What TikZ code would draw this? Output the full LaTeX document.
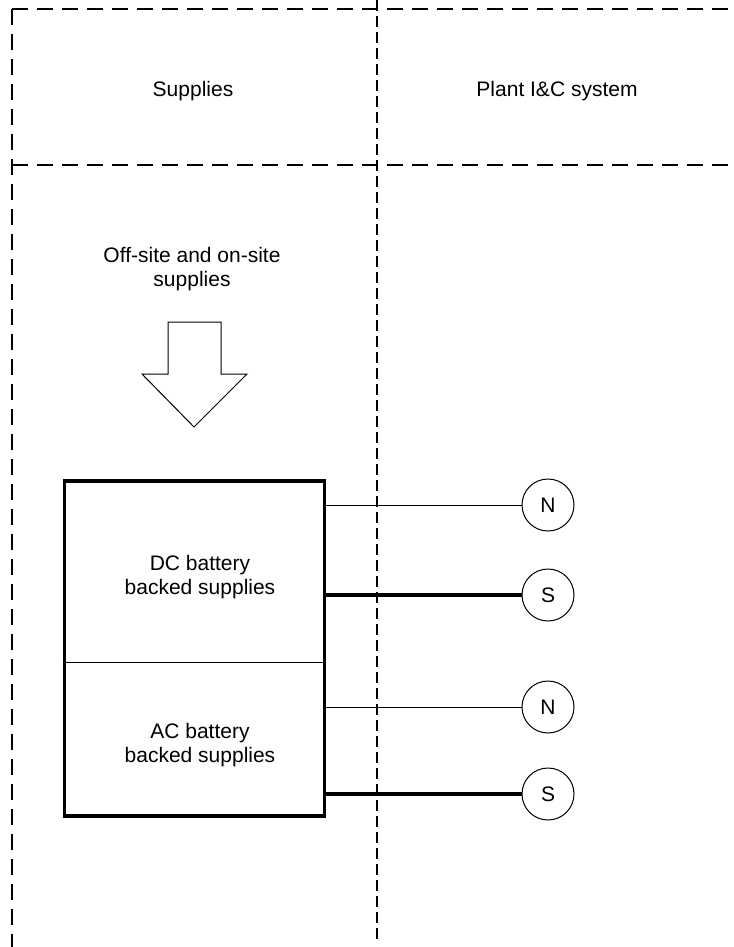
\documentclass[tikz,border=0pt]{standalone}
\usepackage{fontspec}
\setmainfont{Liberation Sans}
\begin{document}
\begin{tikzpicture}[x=0.75pt,y=-0.75pt,
  frame/.style={line width=1.5pt, dash pattern=on 12pt off 6.75pt},
  midline/.style={line width=1.5pt, dash pattern=on 8.25pt off 3.75pt},
  lbl/.style={font=\fontsize{15.75}{18.4}\selectfont, align=center, inner sep=0pt},
  sig/.style={circle, draw, line width=0.75pt, minimum size=39pt, inner sep=0pt, font=\fontsize{15.75}{18.4}\selectfont},
  thinwire/.style={line width=0.75pt},
  thickwire/.style={line width=2.4pt},
  bigbox/.style={draw, line width=2.7pt, minimum width=195pt, minimum height=251.25pt, inner sep=0pt}
]
\useasboundingbox (0,0) rectangle (733,947);

% frame lines
\draw[frame] (12,9) -- (733,9);
\draw[frame] (12,9) -- (12,947);
\draw[frame] (12,165) -- (733,165);
\draw[midline] (377,0) -- (377,943);

% headings
\node[lbl, anchor=base] (sup) at (193,96) {Supplies};
\node[lbl, anchor=base] (plant) at (557,96) {Plant I\&C system};

% off-site supplies and arrow
\node[lbl] (off) at (192,269) {Off-site and on-site\\supplies};
\draw[line width=0.75pt, line join=miter] (168,322) -- (221,322) -- (221,374) -- (247,374) -- (194,427) -- (142,374) -- (168,374) -- cycle;

% box
\node[bigbox] (box) at (194.3,648.5) {};
\coordinate (dv) at (0,662);
\draw[thinwire] (box.west |- dv) -- (box.east |- dv);
\node[lbl] (dc) at (200,577) {DC battery\\backed supplies};
\node[lbl] (ac) at (200,745) {AC battery\\backed supplies};

% signal circles
\node[sig] (n1) at (548,505) {N};
\node[sig] (s1) at (548,595) {S};
\node[sig] (n2) at (548,707) {N};
\node[sig] (s2) at (548,794) {S};

\draw[thinwire] (box.east |- n1) -- (n1);
\draw[thickwire] (box.east |- s1) -- (s1);
\draw[thinwire] (box.east |- n2) -- (n2);
\draw[thickwire] (box.east |- s2) -- (s2);
\end{tikzpicture}
\end{document}
